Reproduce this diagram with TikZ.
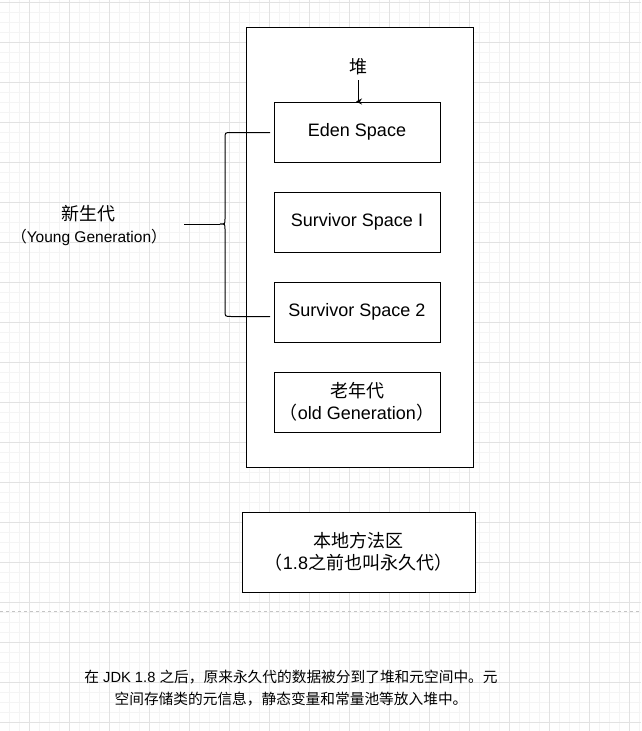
\documentclass[tikz,border=0pt]{standalone}
\usepackage{fontspec}
\setmainfont{Liberation Sans}
\newfontfamily\cjk{Noto Sans CJK SC}
\usetikzlibrary{arrows.meta, positioning}
\definecolor{gridmajor}{HTML}{E2E2E2}
\definecolor{gridminor}{HTML}{F4F4F4}
\definecolor{dashgray}{HTML}{C4C4C4}

\tikzset{
	spacebox/.style={draw, fill=white, line width=1pt, minimum width=166pt, minimum height=60pt, inner sep=0pt, align=center, font=\fontsize{18}{22}\selectfont},
	bigbox/.style={draw, fill=white, line width=1pt, inner sep=0pt, align=center, font=\fontsize{18}{22}\selectfont},
	plaintext/.style={inner sep=2pt, align=center, font=\fontsize{18}{22}\selectfont},
}

\begin{document}
\begin{tikzpicture}[x=1pt, y=-1pt]
	
	% 背景网格
	\useasboundingbox (0,0) rectangle (641,731);
	\fill[white] (0,0) rectangle (641,731);
	\foreach \gx in {9,19,...,639} \draw[gridminor, line width=1pt] (\gx,0) -- (\gx,731);
	\foreach \gy in {2,12,...,730} \draw[gridminor, line width=1pt] (0,\gy) -- (641,\gy);
	\foreach \gx in {29,69,...,629} \draw[gridmajor, line width=1pt] (\gx,0) -- (\gx,731);
	\foreach \gy in {2,42,...,722} \draw[gridmajor, line width=1pt] (0,\gy) -- (641,\gy);
	
	% 堆
	\node[bigbox, minimum width=227pt, minimum height=440pt] (heap) at (359.5,247) {};
	\node[plaintext, inner sep=5pt] (dui) at (358,67) {\cjk 堆};
	
	% 堆内的几块空间
	\node[spacebox] (eden) at (357,132) {Eden Space};
	\node[spacebox, below=29pt of eden] (surv1) {Survivor Space I};
	\node[spacebox, below=29pt of surv1] (surv2) {Survivor Space 2};
	\node[spacebox, below=29pt of surv2] (oldgen) {{\cjk 老年代}\\{\cjk （}old Generation{\cjk ）}};
	
	\draw[line width=1pt, -{Stealth[length=6pt, width=6pt]}] (dui.south) |- ([xshift=-1pt]eden.north);
	
	% 新生代
	\node[plaintext] (young) at (89,226) {{\cjk 新生代}\\{\fontsize{15.5}{22}\selectfont{\cjk （}Young Generation{\cjk ）}}};
	\coordinate (bracein) at (184,224);
	\coordinate (bracetip) at (220,224);
	\coordinate (armtop) at (270,132.5);
	\coordinate (armbot) at (270,316.5);
	\draw[line width=1pt] (bracein) -- (bracetip);
	\draw[line width=1pt] (armtop) -- (231,132.5) .. controls (225,132.5) .. (225,138.5) -- (225,219)
		.. controls (225,224) .. (bracetip) .. controls (225,224) .. (225,229) -- (225,310.5)
		.. controls (225,316.5) .. (231,316.5) -- (armbot);
	
	% 本地方法区
	\node[bigbox, minimum width=233pt, minimum height=80pt] (method) at (358.5,552) {{\cjk 本地方法区}\\{\cjk （}1.8{\cjk 之前也叫永久代）}};
	
	% 分隔虚线
	\draw[dashgray, line width=1pt, dash pattern=on 3pt off 3pt] (0,611) -- (641,611);
	
	% 说明文字
	\node[plaintext, font=\fontsize{14.7}{22}\selectfont] (note) at (291,688) {{\cjk 在} JDK 1.8 {\cjk 之后，原来永久代的数据被分到了堆和元空间中。元}\\{\cjk 空间存储类的元信息，静态变量和常量池等放入堆中。}};
	
\end{tikzpicture}
\end{document}
